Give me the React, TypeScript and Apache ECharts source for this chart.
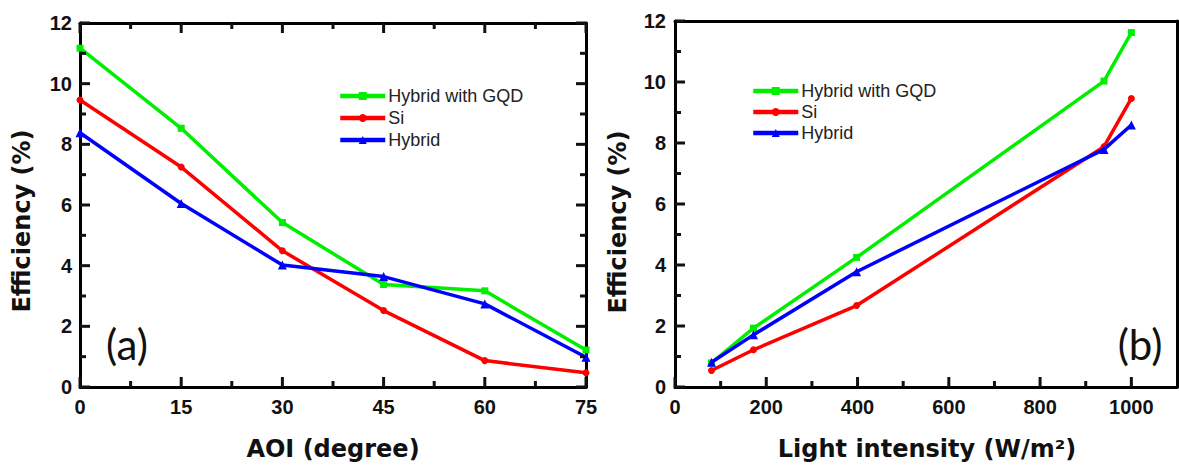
import React, { useEffect, useRef } from "react";
import * as echarts from "echarts";

// ---- data ----
const seriesNames = ["Hybrid with GQD", "Si", "Hybrid"];
const seriesColors = ["#00ee00", "#ff0000", "#0000ff"];
const seriesSymbols = ["rect", "circle", "triangle"];

const aoiX = [0, 15, 30, 45, 60, 75];
const aoiGQD = [11.17, 8.53, 5.42, 3.38, 3.17, 1.22];
const aoiSi = [9.46, 7.25, 4.49, 2.52, 0.87, 0.47];
const aoiHybrid = [8.38, 6.05, 4.02, 3.64, 2.74, 0.98];

const lightX = [80, 172, 398, 940, 1000];
const lightGQD = [0.79, 1.93, 4.25, 10.03, 11.62];
const lightSi = [0.54, 1.22, 2.67, 7.88, 9.46];
const lightHybrid = [0.81, 1.71, 3.78, 7.79, 8.59];

// tick values
const aoiMajor = [0, 15, 30, 45, 60, 75];
const aoiMinor = [7.5, 22.5, 37.5, 52.5, 67.5];
const effMajor = [0, 2, 4, 6, 8, 10, 12];
const effMinor = [1, 3, 5, 7, 9, 11];
const lightMajor = [0, 200, 400, 600, 800, 1000];
const lightMinor = [100, 300, 500, 700, 900];

const leftTitleX = "AOI (degree)";
const rightTitleX = "Light intensity (W/m²)";
const titleY = "Efficiency (%)";

const TICK_FONT = '"Liberation Sans", Arial, sans-serif';
const TITLE_FONT = '"DejaVu Sans", Verdana, sans-serif';

const G0 = { left: 80, top: 23, width: 506, height: 364 };
const G1 = { left: 675, top: 21, width: 502, height: 366 };
const MAJOR_LEN = 10;
const MINOR_LEN = 6;

function label(margin: number, extra: any = {}) {
  return {
    show: true, margin, color: "#111", fontFamily: TICK_FONT, fontWeight: "bold", fontSize: 20,
    formatter: (v: number) => String(v), ...extra,
  };
}

function mainAxis(grid: number, position: string, min: number, max: number, interval: number, lbl: any) {
  return {
    gridIndex: grid, type: "value", position, min, max, interval,
    axisLine: { show: true, onZero: false, lineStyle: { color: "#000", width: 3 } },
    axisTick: { show: false },
    minorTick: { show: false },
    splitLine: { show: false },
    axisLabel: lbl ? lbl : { show: false },
  };
}

function tickData(major: number[], minor: number[]) {
  return [...major.map((v) => [v, 1]), ...minor.map((v) => [v, 0])];
}

// inward ticks placed through the axes' own scales
function tickSeries(dim: "x" | "y", xi: number, yi: number, data: number[][], mirror: boolean) {
  return {
    type: "custom",
    xAxisIndex: xi,
    yAxisIndex: yi,
    clip: false,
    z: 10,
    data,
    renderItem: (params: any, api: any) => {
      const v = api.value(0);
      const len = api.value(1) === 1 ? MAJOR_LEN : MINOR_LEN;
      const cs = params.coordSys;
      const style = { stroke: "#111", lineWidth: 3 };
      const children: any[] = [];
      if (dim === "x") {
        const px = api.coord([v, 0])[0];
        const b = cs.y + cs.height;
        children.push({ type: "line", shape: { x1: px, y1: b, x2: px, y2: b - len }, style });
        if (mirror) children.push({ type: "line", shape: { x1: px, y1: cs.y, x2: px, y2: cs.y + len }, style });
      } else {
        const py = api.coord([0, v])[1];
        const l = cs.x;
        children.push({ type: "line", shape: { x1: l, y1: py, x2: l + len, y2: py }, style });
        if (mirror) {
          const r = cs.x + cs.width;
          children.push({ type: "line", shape: { x1: r, y1: py, x2: r - len, y2: py }, style });
        }
      }
      return { type: "group", children };
    },
  };
}

function zip(xs: number[], ys: number[]) {
  return xs.map((x, i) => [x, ys[i]]);
}

function mkSeries(name: string, idx: number, data: number[][], xi: number, yi: number) {
  const sym = seriesSymbols[idx];
  return {
    name, type: "line", xAxisIndex: xi, yAxisIndex: yi, data,
    symbol: sym, symbolSize: sym === "triangle" ? 9 : 7, showSymbol: true,
    lineStyle: { color: seriesColors[idx], width: 3.5 },
    itemStyle: { color: seriesColors[idx] },
    z: 2 + idx,
  };
}

export default function App() {
  const ref = useRef<HTMLDivElement>(null);
  useEffect(() => {
    if (!ref.current) return;
    const chart = echarts.init(ref.current, undefined, { renderer: "svg" });
    const legendCommon = {
      orient: "vertical", padding: 0, itemWidth: 45, itemHeight: 10, data: seriesNames,
      lineStyle: { width: 4.5 },
      textStyle: { fontFamily: TICK_FONT, fontSize: 18, color: "#222", lineHeight: 18, padding: [0, 0, 0, -2] },
    };
    const xAxis = [
      mainAxis(0, "bottom", 0, 75, 15, label(10)),
      mainAxis(0, "top", 0, 75, 15, null),
      mainAxis(1, "bottom", 0, 1100, 200, label(10, { showMaxLabel: false })),
      mainAxis(1, "top", 0, 1100, 200, null),
    ];
    const yAxis = [
      mainAxis(0, "left", 0, 12, 2, label(8)),
      mainAxis(0, "right", 0, 12, 2, null),
      mainAxis(1, "left", 0, 12, 2, label(9)),
      mainAxis(1, "right", 0, 12, 2, null),
    ];
    const option: any = {
      animation: false,
      backgroundColor: "#fff",
      grid: [{ ...G0 }, { ...G1 }],
      legend: [
        { ...legendCommon, left: 338, top: 87, itemGap: 4 },
        { ...legendCommon, left: 751, top: 82, itemGap: 3 },
      ],
      xAxis,
      yAxis,
      series: [
        mkSeries(seriesNames[0], 0, zip(aoiX, aoiGQD), 0, 0),
        mkSeries(seriesNames[1], 1, zip(aoiX, aoiSi), 0, 0),
        mkSeries(seriesNames[2], 2, zip(aoiX, aoiHybrid), 0, 0),
        mkSeries(seriesNames[0], 0, zip(lightX, lightGQD), 2, 2),
        mkSeries(seriesNames[1], 1, zip(lightX, lightSi), 2, 2),
        mkSeries(seriesNames[2], 2, zip(lightX, lightHybrid), 2, 2),
        tickSeries("x", 0, 0, tickData(aoiMajor, aoiMinor), true),
        tickSeries("y", 0, 0, tickData(effMajor, effMinor), true),
        tickSeries("x", 2, 2, tickData(lightMajor, lightMinor), false),
        tickSeries("y", 2, 2, tickData(effMajor, effMinor), false),
      ],
      graphic: [
        {
          type: "text", x: 22, y: 221, rotation: Math.PI / 2,
          style: { text: titleY, font: `bold 24px ${TITLE_FONT}`, fill: "#111", align: "center", verticalAlign: "middle" },
        },
        {
          type: "text", x: 618, y: 222, rotation: Math.PI / 2,
          style: { text: titleY, font: `bold 24px ${TITLE_FONT}`, fill: "#111", align: "center", verticalAlign: "middle" },
        },
        {
          type: "text", x: 333, y: 449,
          style: { text: leftTitleX, font: `bold 24px ${TITLE_FONT}`, fill: "#111", align: "center", verticalAlign: "middle" },
        },
        {
          type: "text", x: 927, y: 449,
          style: { text: rightTitleX, font: `bold 24px ${TITLE_FONT}`, fill: "#111", align: "center", verticalAlign: "middle" },
        },
        {
          type: "text", x: 127, y: 344,
          style: { text: "(a)", font: `42px Lato, "Open Sans", sans-serif`, fill: "#111", align: "center", verticalAlign: "middle" },
        },
        {
          type: "text", x: 1140, y: 344,
          style: { text: "(b)", font: `42px Lato, "Open Sans", sans-serif`, fill: "#111", align: "center", verticalAlign: "middle" },
        },
      ],
    };
    chart.setOption(option);
    return () => chart.dispose();
  }, []);
  return (
    <div ref={ref} style={{ position: "absolute", left: 0, top: 0, width: 1179, height: 466, background: "#fff" }} />
  );
}
